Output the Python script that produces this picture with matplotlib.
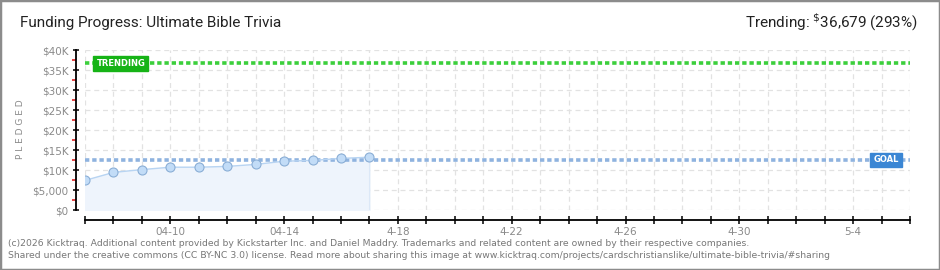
import numpy as np
import matplotlib
matplotlib.use("Agg")
import matplotlib.pyplot as plt
from matplotlib.patches import Rectangle
from matplotlib.ticker import FixedLocator, MultipleLocator

# days since 04-07 (x range runs to 05-06)
days = [0, 1, 2, 3, 4, 5, 6, 7, 8, 9, 10]
pledged = [7400, 9400, 10100, 10700, 10700, 10900, 11400, 12200, 12400, 12900, 13200]
goal = 12500
trending = 36679
n_days = 29

xtick_pos = [3, 7, 11, 15, 19, 23, 27]
xtick_lab = ["04-10", "04-14", "4-18", "4-22", "4-26", "4-30", "5-4"]
ytick_pos = [0, 5000, 10000, 15000, 20000, 25000, 30000, 35000, 40000]
ytick_lab = ["$0", "$5,000", "$10K", "$15K", "$20K", "$25K", "$30K", "$35K", "$40K"]

gray = "#8a8a8a"

fig = plt.figure(figsize=(9.4, 2.7), dpi=100)
fig.patches.append(Rectangle((0, 0), 1, 1, transform=fig.transFigure, fill=False,
                             edgecolor="#8c8c8c", linewidth=2.5))

ax = fig.add_axes([85/940, 60/270, 825/940, 160/270])
ax.set_xlim(0, n_days)
ax.set_ylim(0, 40000)

# grid
for d in range(n_days + 1):
    ax.axvline(d, color="#e2e2e2", lw=0.9, ls=(0, (4, 3)), zorder=0)
for v in ytick_pos:
    ax.axhline(v, color="#e2e2e2", lw=0.9, ls=(0, (4, 3)), zorder=0)

# funding so far
ax.fill_between(days, pledged, 0, color="#eef4fc", zorder=1)
ax.plot([days[-1], days[-1]], [0, pledged[-1]], color="#dce8f7", lw=0.8, zorder=1)
ax.plot(days, pledged, color="#b8d4f2", lw=1, zorder=3)
ax.plot(days, pledged, "o", ms=6.5, mfc="#c2dcf7", mec="#8aaed6", mew=0.8, zorder=4)

# goal / trending lines
ax.axhline(goal, color="#8fb3df", lw=2.6, ls=(0, (1.2, 0.8)), zorder=2)
ax.axhline(trending, color="#3ccf3c", lw=2.6, ls=(0, (1.2, 0.8)), zorder=2)

ax.text(0.4, trending, "TRENDING", color="white", fontsize=6, fontweight="bold",
        va="center", ha="left", zorder=6,
        bbox=dict(boxstyle="square,pad=0.35", fc="#16b316", ec="#16b316"))
ax.text(28.6, goal, "GOAL", color="white", fontsize=6, fontweight="bold",
        va="center", ha="right", zorder=6,
        bbox=dict(boxstyle="square,pad=0.35", fc="#3a86d4", ec="#3a86d4"))

# axes styling
for s in ["top", "right"]:
    ax.spines[s].set_visible(False)
ax.spines["left"].set_position(("outward", 6.5))
ax.spines["bottom"].set_position(("outward", 7.2))
ax.spines["left"].set_linewidth(1.3)
ax.spines["bottom"].set_linewidth(1.3)

ax.xaxis.set_major_locator(FixedLocator(xtick_pos))
ax.set_xticklabels(xtick_lab)
ax.xaxis.set_minor_locator(MultipleLocator(1))
ax.tick_params(axis="x", which="both", direction="inout", length=6, width=1.1,
               colors="black", labelcolor=gray, labelsize=7.5, pad=2)
ax.set_yticks(ytick_pos)
ax.set_yticklabels(ytick_lab)
ax.yaxis.set_minor_locator(FixedLocator([2500 + 5000*i for i in range(8)]))
ax.tick_params(axis="y", which="major", direction="inout", length=5, width=1.1,
               labelcolor=gray, labelsize=7.5, pad=3)
ax.tick_params(axis="y", which="minor", direction="out", length=3, width=1.1, color="#e01010")

fig.text(0.022, 0.52, "P L E D G E D", rotation=90, color=gray, fontsize=6.5,
         va="center", ha="center")

fig.text(20/940, 1 - 23/270, "Funding Progress: Ultimate Bible Trivia", fontsize=11,
         family="Roboto", va="center", ha="left", color="#222222")
fig.text(918/940, 1 - 22/270, r"Trending: $^{\$}$36,679 (293%)", fontsize=11,
         family="Roboto", va="center", ha="right", color="#222222")

fig.text(8/940, 1 - 243/270,
         "(c)2026 Kicktraq. Additional content provided by Kickstarter Inc. and Daniel Maddry. "
         "Trademarks and related content are owned by their respective companies.",
         fontsize=6.7, color="#777777", va="center", ha="left")
fig.text(8/940, 1 - 256/270,
         "Shared under the creative commons (CC BY-NC 3.0) license. Read more about sharing this "
         "image at www.kicktraq.com/projects/cardschristianslike/ultimate-bible-trivia/#sharing",
         fontsize=6.7, color="#777777", va="center", ha="left")

fig.savefig("out.png", dpi=100)
